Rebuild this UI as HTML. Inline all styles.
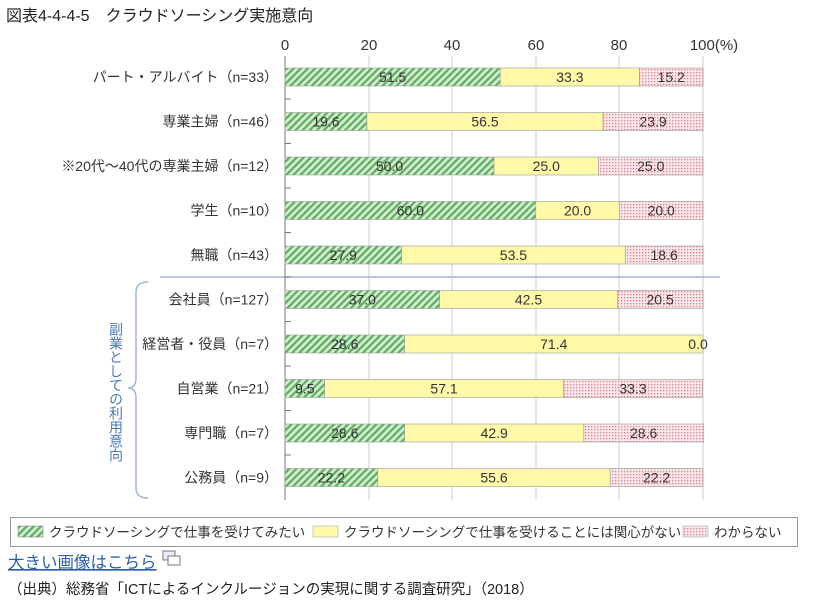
<!DOCTYPE html><html><head><meta charset="utf-8"><style>body{margin:0;background:#fff}svg{display:block}</style></head><body>
<svg width="818" height="614" xmlns="http://www.w3.org/2000/svg" font-family="Liberation Sans, Noto Sans CJK JP, sans-serif">
<defs><pattern id="h" width="5" height="5" patternUnits="userSpaceOnUse" patternTransform="rotate(45)"><rect width="5" height="5" fill="#d4ecd2"/><rect width="2.2" height="5" fill="#5cae5c"/></pattern>
<pattern id="d" width="3" height="3" patternUnits="userSpaceOnUse"><rect width="3" height="3" fill="#fbe8ea"/><rect width="1.3" height="1.3" fill="#e07a88"/></pattern></defs>
<text x="6" y="21" font-size="16" fill="#222">図表4-4-4-5　クラウドソーシング実施意向</text>
<g font-size="15" fill="#333" text-anchor="middle"><text x="285" y="50">0</text><text x="369" y="50">20</text><text x="452" y="50">40</text><text x="536" y="50">60</text><text x="619" y="50">80</text><text x="714" y="50">100(%)</text></g>
<g stroke="#ccc"><line x1="369" y1="56" x2="369" y2="500"/><line x1="452" y1="56" x2="452" y2="500"/><line x1="536" y1="56" x2="536" y2="500"/><line x1="619" y1="56" x2="619" y2="500"/><line x1="703" y1="56" x2="703" y2="500"/></g>
<line x1="160" y1="277" x2="720" y2="277" stroke="#9fb6d6" stroke-width="1.5"/>
<line x1="285" y1="56" x2="285" y2="500" stroke="#777"/>
<g id="bars" font-size="14" fill="#333" text-anchor="middle"></g>
<path d="M148 282 Q136 282 136 292 L136 378 Q136 388 128 388 Q136 388 136 398 L136 488 Q136 498 148 498" fill="none" stroke="#9fb6d6" stroke-width="1.5"/>
<text font-size="14" fill="#4a78b8" writing-mode="tb" x="116" y="322">副業としての利用意向</text>
<rect x="10.5" y="517.5" width="787" height="29" fill="#fff" stroke="#999"/>
<rect x="18" y="526" width="25" height="11" fill="url(#h)" stroke="#777" stroke-width="0.5"/>
<text x="49" y="537" font-size="13.5" fill="#333">クラウドソーシングで仕事を受けてみたい</text>
<rect x="313" y="526" width="25" height="11" fill="#fff9a8" stroke="#999" stroke-width="0.5"/>
<text x="344" y="537" font-size="13.5" fill="#333">クラウドソーシングで仕事を受けることには関心がない</text>
<rect x="683" y="526" width="25" height="11" fill="url(#d)" stroke="#999" stroke-width="0.5"/>
<text x="714" y="537" font-size="13.5" fill="#333">わからない</text>
<text x="8" y="568" font-size="16.5" fill="#2a5db0" text-decoration="underline">大きい画像はこちら</text>
<rect x="163" y="551" width="12" height="9" fill="#eef" stroke="#777"/><rect x="168" y="556" width="12" height="9" fill="#fff" stroke="#777"/>
<text x="8" y="594" font-size="14.5" fill="#222">（出典）総務省「ICTによるインクルージョンの実現に関する調査研究」（2018）</text>
</svg>
<script>
const rows=[["パート・アルバイト（n=33）",51.5,33.3,15.2],["専業主婦（n=46）",19.6,56.5,23.9],["※20代～40代の専業主婦（n=12）",50.0,25.0,25.0],["学生（n=10）",60.0,20.0,20.0],["無職（n=43）",27.9,53.5,18.6],["会社員（n=127）",37.0,42.5,20.5],["経営者・役員（n=7）",28.6,71.4,0.0],["自営業（n=21）",9.5,57.1,33.3],["専門職（n=7）",28.6,42.9,28.6],["公務員（n=9）",22.2,55.6,22.2]];
const g=document.getElementById('bars');let s='';const X=285,W=4.18;
rows.forEach((r,i)=>{const c=77+44.5*i,y=c-9;let x=X;
s+=`<text x="278" y="${c+5}" text-anchor="end">${r[0]}</text>`;
if(i<9)s+=`<line x1="285" y1="${c+22}" x2="291" y2="${c+22}" stroke="#777"/>`;
const f=['url(#h)','#fff9a8','url(#d)'];
for(let k=0;k<3;k++){const w=r[k+1]*W;s+=`<rect x="${x}" y="${y}" width="${w}" height="18" fill="${f[k]}" stroke="#999" stroke-width="0.6"/>`;
const tx=(k==2&&r[3]==0)?x-5:x+w/2;
s+=`<text x="${tx}" y="${c+5}">${r[k+1].toFixed(1)}</text>`;x+=w;}});
g.innerHTML=s;
</script></body></html>
